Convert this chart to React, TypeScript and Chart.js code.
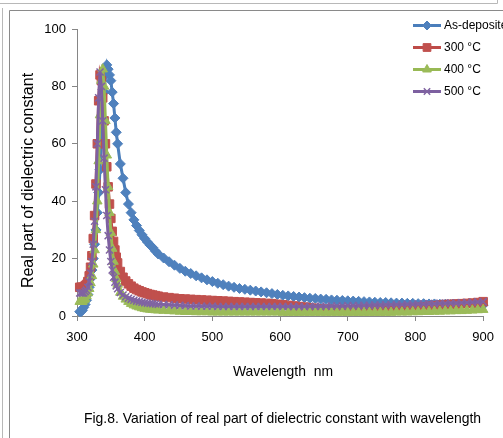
import { useEffect, useRef } from "react";
import { Chart, registerables } from "chart.js";
import { drawPoint } from "chart.js/helpers";

Chart.register(...registerables);

// Wavelength (nm)
const wavelengths = [
  304, 306, 308, 310, 312, 314, 316, 318, 320, 322, 324, 326, 328, 330, 332, 334, 336, 338, 340, 342,
  344, 346, 348, 350, 352, 354, 356, 358, 360,
  364, 368, 372, 376, 380, 384, 388, 392, 396, 400, 404, 408, 412, 416, 420,
  428, 436, 444, 452, 460, 468, 476, 484, 492, 500, 508, 516, 524, 532, 540, 548, 556, 564, 572, 580,
  588, 596, 604, 612, 620, 628, 636, 644, 652, 660, 668, 676, 684, 692, 700, 708, 716, 724, 732, 740,
  748, 756, 764, 772, 780, 788, 796, 804, 812, 820, 828, 836, 844, 852, 860, 868, 876, 884, 892, 900,
];

const asDeposited = [
  1.5, 1.5, 2, 3, 4, 5.5, 7.5, 10, 13, 16, 20, 25, 30, 36, 43, 51, 60, 69, 78, 84,
  87.5, 86, 84, 82, 78, 74, 69, 64, 60,
  53, 48, 43, 39, 36, 33.5, 31.5, 29.8, 28.3, 27, 25.8, 24.7, 23.8, 22.6, 21.6,
  20.2, 18.9, 17.7, 16.6, 15.6, 14.8, 14, 13.3, 12.6, 12, 11.4, 10.9, 10.4, 10, 9.6, 9.3, 9, 8.7, 8.4, 8.1,
  7.8, 7.5, 7.2, 7, 6.8, 6.6, 6.4, 6.2, 6.1, 5.9, 5.8, 5.6, 5.5, 5.4, 5.3, 5.2, 5.1, 5, 4.9, 4.8,
  4.7, 4.7, 4.6, 4.5, 4.5, 4.4, 4.4, 4.3, 4.3, 4.2, 4.2, 4.1, 4.1, 4, 4, 4, 3.9, 3.9, 3.9, 3.8,
];

const t300 = [
  10, 10, 10, 10, 10.5, 11, 12, 14, 17, 21, 27, 35, 46, 60, 75, 84, 82, 76, 68, 60,
  52, 45, 39, 34, 29.5, 26, 23, 20.5, 18.5,
  15.5, 13.5, 12.2, 11.2, 10.4, 9.7, 9.2, 8.8, 8.4, 8.1, 7.8, 7.5, 7.3, 7.1, 6.9,
  6.6, 6.4, 6.2, 6, 5.9, 5.8, 5.7, 5.6, 5.5, 5.4, 5.3, 5.2, 5.1, 5, 4.9, 4.8, 4.7, 4.6, 4.5, 4.4,
  4.3, 4.1, 3.9, 3.7, 3.5, 3.3, 3.1, 2.9, 2.7, 2.5, 2.4, 2.3, 2.2, 2.1, 2, 1.9, 1.9, 1.9, 1.9, 1.9,
  1.9, 2, 2.1, 2.2, 2.4, 2.6, 2.8, 3, 3.2, 3.4, 3.6, 3.8, 4, 4.1, 4.2, 4.3, 4.4, 4.5, 4.7, 5,
];

const t400 = [
  5, 5, 5, 5.5, 6, 7, 8, 9.5, 11.5, 14, 18, 23, 30, 40, 54, 70, 82, 86, 80, 68,
  56, 45, 36, 29, 23.5, 19, 15.5, 13, 11,
  8.2, 6.8, 5.8, 5, 4.3, 3.8, 3.4, 3.1, 2.8, 2.6, 2.4, 2.3, 2.2, 2.1, 2,
  1.9, 1.8, 1.7, 1.6, 1.5, 1.5, 1.4, 1.4, 1.4, 1.3, 1.3, 1.3, 1.3, 1.3, 1.3, 1.3, 1.3, 1.3, 1.3, 1.3,
  1.3, 1.3, 1.2, 1.2, 1.2, 1.2, 1.2, 1.2, 1.2, 1.2, 1.2, 1.2, 1.2, 1.2, 1.2, 1.2, 1.2, 1.2, 1.2, 1.2,
  1.2, 1.2, 1.2, 1.3, 1.3, 1.3, 1.4, 1.4, 1.5, 1.5, 1.6, 1.6, 1.7, 1.7, 1.8, 1.8, 1.9, 2, 2.1, 2.2,
];

const t500 = [
  8, 8, 8, 8, 8.5, 9, 10, 12, 15, 19, 25, 33, 45, 60, 76, 85, 80, 68, 55, 44,
  35, 28, 23, 19, 16, 13.5, 11.8, 10.5, 9.5,
  8.2, 7.3, 6.7, 6.2, 5.8, 5.5, 5.2, 5, 4.8, 4.6, 4.5, 4.4, 4.3, 4.2, 4.1,
  4, 3.9, 3.8, 3.7, 3.6, 3.5, 3.5, 3.4, 3.4, 3.4, 3.3, 3.3, 3.3, 3.3, 3.3, 3.3, 3.3, 3.3, 3.3, 3.3,
  3.3, 3.3, 3.3, 3.3, 3.3, 3.3, 3.3, 3.4, 3.4, 3.4, 3.4, 3.5, 3.5, 3.5, 3.6, 3.6, 3.6, 3.7, 3.7, 3.8,
  3.8, 3.9, 3.9, 4, 4, 4.1, 4.1, 4.2, 4.2, 4.3, 4.3, 4.4, 4.4, 4.5, 4.5, 4.6, 4.7, 4.8, 4.9, 5,
];

const seriesLabels = ["As-deposited", "300 °C", "400 °C", "500 °C"];
const seriesValues = [asDeposited, t300, t400, t500];
const seriesLine = ["#4A7EBB", "#BE4B48", "#98B954", "#7D60A0"];
const seriesFill = ["#4F81BD", "#C0504D", "#9BBB59", "#8064A2"];
const seriesMarker = ["rectRot", "rect", "triangle", "crossRot"];
const seriesRadius = [5, 6, 5.5, 5];

const xTitle = "Wavelength  nm";
const yTitle = "Real part of dielectric constant";
const caption = "Fig.8. Variation of real part of dielectric constant with wavelength";

const SANS = '"Liberation Sans", Arial, sans-serif';

const decor = {
  id: "decor",
  beforeDraw(chart: any) {
    const ctx = chart.ctx as CanvasRenderingContext2D;
    ctx.save();
    ctx.fillStyle = "#ffffff";
    ctx.fillRect(0, 0, chart.width, chart.height);
    ctx.lineWidth = 1;
    ctx.strokeStyle = "#b8b8b8";
    ctx.beginPath();
    ctx.moveTo(0, 3.5);
    ctx.lineTo(497.5, 3.5);
    ctx.lineTo(497.5, 0);
    ctx.stroke();
    ctx.beginPath();
    ctx.moveTo(2.5, 8);
    ctx.lineTo(2.5, 438);
    ctx.stroke();
    ctx.strokeStyle = "#8a8a8a";
    ctx.beginPath();
    ctx.moveTo(503, 10.5);
    ctx.lineTo(9.5, 10.5);
    ctx.lineTo(9.5, 438);
    ctx.stroke();
    ctx.restore();
  },
  afterDraw(chart: any) {
    const ctx = chart.ctx as CanvasRenderingContext2D;
    ctx.save();
    ctx.fillStyle = "#000000";
    // y title
    ctx.save();
    ctx.translate(33, 180.5);
    ctx.rotate(-Math.PI / 2);
    ctx.font = `16px ${SANS}`;
    ctx.textAlign = "center";
    ctx.textBaseline = "alphabetic";
    ctx.fillText(yTitle, 0, 0, 235);
    ctx.restore();
    // x title
    ctx.font = `15px ${SANS}`;
    ctx.textAlign = "center";
    ctx.textBaseline = "alphabetic";
    ctx.fillText(xTitle, 283, 376, 100);
    // caption
    ctx.font = `14.5px ${SANS}`;
    ctx.fillText(caption, 282.5, 423, 397);
    // legend
    ctx.textAlign = "left";
    ctx.textBaseline = "middle";
    ctx.font = `12px ${SANS}`;
    seriesLabels.forEach((label, i) => {
      const y = 25.5 + i * 22;
      ctx.strokeStyle = seriesLine[i];
      ctx.lineWidth = 3;
      ctx.beginPath();
      ctx.moveTo(413, y);
      ctx.lineTo(441, y);
      ctx.stroke();
      ctx.fillStyle = seriesFill[i];
      ctx.strokeStyle = seriesFill[i];
      ctx.lineWidth = seriesMarker[i] === "crossRot" ? 1.5 : 1;
      drawPoint(ctx, {
        pointStyle: seriesMarker[i],
        radius: seriesRadius[i] - 0.5,
        rotation: 0,
        borderWidth: seriesMarker[i] === "crossRot" ? 1.5 : 1,
      } as any, 427, y);
      ctx.fillStyle = "#000000";
      ctx.fillText(label, 444, y + 0.5);
    });
    ctx.restore();
  },
};

export default function App() {
  const ref = useRef<HTMLCanvasElement | null>(null);
  useEffect(() => {
    if (!ref.current) return;
    Chart.defaults.font.family = SANS;
    const datasets = seriesLabels.map((label, i) => ({
      label,
      data: wavelengths.map((w, k) => ({ x: w, y: seriesValues[i][k] })),
      borderColor: seriesLine[i],
      borderWidth: 3,
      backgroundColor: seriesFill[i],
      pointBackgroundColor: seriesFill[i],
      pointBorderColor: seriesFill[i],
      pointBorderWidth: seriesMarker[i] === "crossRot" ? 1.5 : 1,
      pointStyle: seriesMarker[i],
      pointRadius: seriesRadius[i],
      pointHoverRadius: seriesRadius[i],
      tension: 0,
      showLine: true,
      fill: false,
      order: 3 - i,
      clip: 12,
    }));
    const chart = new Chart(ref.current, {
      type: "line",
      data: { datasets } as any,
      options: {
        animation: false,
        responsive: false,
        devicePixelRatio: 1,
        events: [],
        layout: { padding: { left: 0, top: 29, right: 12, bottom: 0 } },
        plugins: { legend: { display: false }, tooltip: { enabled: false } },
        scales: {
          x: {
            type: "linear",
            min: 300,
            max: 900,
            ticks: {
              stepSize: 100,
              color: "#000000",
              font: { family: SANS, size: 13 },
              padding: 9,
              maxRotation: 0,
            },
            grid: { drawOnChartArea: false, tickLength: 5, color: "#868686" },
            border: { color: "#868686", width: 1 },
            afterFit(s: any) {
              s.height = 122;
            },
          },
          y: {
            min: 0,
            max: 100,
            ticks: {
              stepSize: 20,
              color: "#000000",
              font: { family: SANS, size: 13 },
              padding: 6,
            },
            grid: { drawOnChartArea: false, tickLength: 5, color: "#868686" },
            border: { color: "#868686", width: 1 },
            afterFit(s: any) {
              s.width = 77;
            },
          },
        },
      } as any,
      plugins: [decor],
    });
    return () => chart.destroy();
  }, []);
  return (
    <div style={{ position: "fixed", left: 0, top: 0, width: 503, height: 438, background: "#fff" }}>
      <canvas ref={ref} width={503} height={438} style={{ display: "block" }} />
    </div>
  );
}
